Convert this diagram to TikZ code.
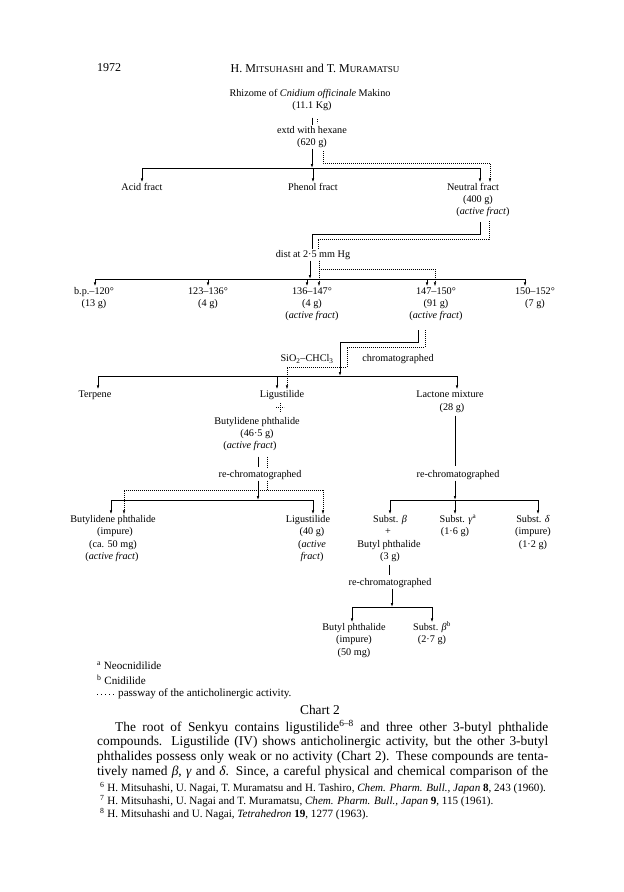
\documentclass[tikz,border=0pt]{standalone}
\usepackage{fontspec}
\setmainfont{Liberation Serif}
\usepackage{tikz}
\usetikzlibrary{arrows.meta,calc,positioning}
\newcommand\chartfont{\fontsize{10.2}{12}\selectfont}
\newcommand\bodyfont{\fontsize{13.4}{15}\selectfont}
\newcommand\notefont{\fontsize{11.1}{12}\selectfont}
\newcommand\hdrfont{\fontsize{12}{14}\selectfont}
\newcommand\fsc[2]{#1{\fontsize{9}{10}\selectfont #2}}
\newcommand\actf{(\textit{active fract\/})}
\tikzset{
  lbl/.style={font=\chartfont,inner sep=1pt,text height=7pt,text depth=2pt},
  body/.style={font=\bodyfont,inner sep=1pt},
  note/.style={font=\notefont,inner sep=1pt},
  hdr/.style={font=\hdrfont,inner sep=1pt},
  sol/.style={line width=0.7pt},
  act/.style={line width=0.6pt,dash pattern=on 0.6pt off 1.4pt},
}

\begin{document}
\begin{tikzpicture}[x=1pt,y=-1pt,>={Latex[length=4pt,width=2.6pt]}]
  \useasboundingbox (0,0) rectangle (624,892);
  % running head
  \node[hdr,anchor=west] (pgno) at (96,68) {1972};
  \node[hdr] (runhd) at (315,68) {H. \fsc{M}{ITSUHASHI} and T. \fsc{M}{URAMATSU}};

  % rhizome and extraction
  \node[lbl] (rhiz) at (310,94) {Rhizome of \textit{Cnidium officinale} Makino};
  \node[lbl] (rhizw) at (312,106) {(11.1 Kg)};
  \node[lbl] (extd) at (312,131) {extd with hexane};
  \node[lbl] (extdw) at (312,143) {(620 g)};
  \draw[sol,shorten <=6pt] (rhizw.south) -- (extd.north);
  \coordinate (p0) at (317,119);
  \draw[act] (p0) -- ++(0,4);

  % acid / phenol / neutral
  \node[lbl] (acid) at (142,188) {Acid fract};
  \node[lbl] (phen) at (313,188) {Phenol fract};
  \node[lbl] (neut) at (473,188) {Neutral fract};
  \node[lbl] (neutw) at (478,200) {(400 g)};
  \node[lbl] (neuta) at (483,212) {\actf};
  \coordinate (j1l) at (142,168);
  \coordinate (j1r) at (480,168);
  \draw[sol] (j1l) -- (j1r);
  \draw[sol,->] (extdw.south) -- (extdw.south |- j1l);
  \draw[sol,->] (j1l) -- (j1l |- acid.north);
  \draw[sol,->] (phen.north |- j1l) -- (phen.north);
  \draw[sol,->] (j1r) -- (j1r |- neut.north);
  \coordinate (p1) at (323,151);
  \coordinate (p2) at (490,163);
  \draw[act,->] (p1) |- (p2) -- (p2 |- neut.north);

  % distillation
  \node[lbl] (dist) at (313,255) {dist at 2·5 mm Hg};
  \coordinate (j2a) at (480,222);
  \coordinate (p3) at (489,221);
  \draw[sol] (j2a) -- ++(0,12) -| ([xshift=-1pt]dist.north);
  \draw[act] (p3) -- ++(0,18) -| ([xshift=5pt]dist.north);
  \foreach \n/\x/\bp/\w in {1/94/b.p.--120°/13 g,2/208/123--136°/4 g,3/312/136--147°/4 g,
      4/436/147--150°/91 g,5/535/150--152°/7 g}{
    \node[lbl] (f\n) at (\x,292) {\bp};
    \node[lbl] (fw\n) at (\x,304) {(\w)};
  }
  \node[lbl] (fa3) at (312,316) {\actf};
  \node[lbl] (fa4) at (436,316) {\actf};
  \coordinate (j3l) at (95,279);
  \coordinate (j3r) at (525,279);
  \draw[sol] (j3l) -- (j3r);
  \draw[sol,->] ([xshift=-3pt]dist.south) -- ([xshift=-3pt]dist.south |- j3l);
  \foreach \n/\dx in {1/1,2/0,3/-5,4/-9,5/-10}
    \draw[sol,->] ([xshift=\dx pt]f\n.north |- j3l) -- ([xshift=\dx pt]f\n.north);
  \coordinate (p4) at (435,269);
  \draw[act,->] ([xshift=6pt]dist.south) |- (p4) -- (p4 |- f4.north);
  \draw[act,->] ([xshift=6pt]dist.south) -- ([xshift=6pt]dist.south |- f3.north);

  % column
  \node[lbl] (sio) at (307,359) {SiO\textsubscript{2}--CHCl\textsubscript{3}};
  \node[lbl] (chrom) at (398,359) {chromatographed};
  \node[lbl] (terp) at (95,395) {Terpene};
  \node[lbl] (lig) at (282,395) {Ligustilide};
  \node[lbl] (lact) at (450,395) {Lactone mixture};
  \node[lbl] (lactw) at (452,408) {(28 g)};
  \coordinate (j4a) at (418,330);
  \coordinate (j5l) at (98,376);
  \coordinate (j5r) at (457,376);
  \coordinate (j5m) at (340,376);
  \draw[sol,->] (j4a) -- ++(0,12) -| (j5m);
  \draw[sol] (j5l) -- (j5r);
  \draw[sol,->] (j5l) -- (j5l |- terp.north);
  \draw[sol,->] ([xshift=-5pt]lig.north |- j5l) -- ([xshift=-5pt]lig.north);
  \draw[sol,->] (j5r) -- (j5r |- lact.north);
  \coordinate (p5) at (425,330);
  \coordinate (p6) at (347,367);
  \coordinate (p7) at (287,367);
  \draw[act,->] (p5) -- ++(0,17) -| (p6) -- (p7) -- (p7 |- lig.north);

  % ligustilide -> butylidene phthalide
  \node[lbl] (bdp) at (257,422) {Butylidene phthalide};
  \node[lbl] (bdpw) at (257,434) {(46·5 g)};
  \node[lbl] (bdpa) at (250,446) {\actf};
  \coordinate (p8) at (280,403);
  \draw[act] (p8) -- ++(0,9);
  \draw[act] ([xshift=-4pt,yshift=-4pt]p8) -- ++(8,0);
  \node[lbl] (rc1) at (260,475) {re-chromatographed};
  \node[lbl] (rc2) at (458,475) {re-chromatographed};
  \draw[sol,shorten <=5pt,shorten >=2pt] ([xshift=-2pt]rc1.north |- bdpa.south) -- ([xshift=-2pt]rc1.north);
  \draw[act,shorten <=5pt,shorten >=2pt] ([xshift=7pt]rc1.north |- bdpa.south) -- ([xshift=7pt]rc1.north);
  \draw[sol,shorten <=2pt,shorten >=3pt] ([xshift=3pt]lactw.south) -- ([xshift=3pt]lactw.south |- rc2.north);

  % left re-chromatography
  \node[lbl] (bd2) at (113,520) {Butylidene phthalide};
  \node[lbl] (bd2i) at (115,532) {(impure)};
  \node[lbl] (bd2w) at (113,545) {(ca. 50 mg)};
  \node[lbl] (bd2a) at (112,557) {\actf};
  \node[lbl] (lg2) at (308,520) {Ligustilide};
  \node[lbl] (lg2w) at (312,532) {(40 g)};
  \node[lbl] (lg2a) at (312,545) {(\textit{active}};
  \node[lbl] (lg2b) at (312,557) {\textit{fract\/})};
  \coordinate (j6l) at (111,500);
  \coordinate (j6r) at (313,500);
  \draw[sol] (j6l) -- (j6r);
  \draw[sol,->] ([xshift=-2pt]rc1.south) -- ([xshift=-2pt]rc1.south |- j6l);
  \draw[sol,->] (j6l) -- (j6l |- bd2.north);
  \draw[sol,->] (j6r) -- (j6r |- lg2.north);
  \coordinate (p9) at (124,490);
  \coordinate (p10) at (323,490);
  \draw[act] ([xshift=7pt]rc1.south) -- ([xshift=7pt]rc1.south |- p9);
  \draw[act,->] (p10) -- (p9) -- (p9 |- bd2.north);
  \draw[act,->] (p10) -- (p10 |- lg2.north);

  % right re-chromatography
  \node[lbl] (sb) at (390,520) {Subst. \textit{β}};
  \node[lbl] (plus) at (388,532) {+};
  \node[lbl] (bp) at (389,545) {Butyl phthalide};
  \node[lbl] (bpw) at (390,557) {(3 g)};
  \node[lbl] (sg) at (458,520) {Subst. \textit{γ}\textsuperscript{a}};
  \node[lbl] (sgw) at (455,532) {(1·6 g)};
  \node[lbl] (sd) at (533,520) {Subst. \textit{δ}};
  \node[lbl] (sdi) at (533,532) {(impure)};
  \node[lbl] (sdw) at (533,545) {(1·2 g)};
  \coordinate (j7l) at (390,500);
  \coordinate (j7r) at (538,500);
  \draw[sol] (j7l) -- (j7r);
  \draw[sol,->] ([xshift=-3pt]rc2.south) -- ([xshift=-3pt]rc2.south |- j7l);
  \draw[sol,->] (j7l) -- (j7l |- sb.north);
  \draw[sol,->] ([xshift=-3pt]sg.north |- j7l) -- ([xshift=-3pt]sg.north);
  \draw[sol,->] (j7r) -- (j7r |- sd.north);

  % last step
  \node[lbl] (rc3) at (390,583) {re-chromatographed};
  \draw[sol,shorten <=2pt,shorten >=2pt] ([xshift=-1pt]bpw.south) -- ([xshift=-1pt]rc3.north);
  \node[lbl] (bp2) at (354,628) {Butyl phthalide};
  \node[lbl] (bp2i) at (354,640) {(impure)};
  \node[lbl] (bp2w) at (354,653) {(50 mg)};
  \node[lbl] (sb2) at (432,628) {Subst. \textit{β}\textsuperscript{b}};
  \node[lbl] (sb2w) at (432,640) {(2·7 g)};
  \coordinate (j8l) at (352,607);
  \coordinate (j8r) at (432,607);
  \draw[sol] (j8l) -- (j8r);
  \draw[sol,->] ([xshift=2pt]rc3.south) -- ([xshift=2pt]rc3.south |- j8l);
  \draw[sol,->] (j8l) -- (j8l |- bp2.north);
  \draw[sol,->] (j8r) -- (j8r |- sb2.north);

  % key
  \node[note,anchor=west] (nta) at (96,666) {\textsuperscript{a} Neocnidilide};
  \node[note,anchor=west] (ntb) at (96,680) {\textsuperscript{b} Cnidilide};
  \coordinate (key0) at (97,694);
  \coordinate (key1) at (114,694);
  \draw[line width=0.6pt,dash pattern=on 0.8pt off 3.2pt] (key0) -- (key1);
  \node[note,anchor=west] (ntc) at (117,694) {passway of the anticholinergic activity.};
  \node[body] (cap) at (320,710) {Chart 2};

  % text below the chart
  \node[body,anchor=west] (ln1) at (114,727) {\makebox[433pt][s]{The root of Senkyu contains ligustilide\textsuperscript{6--8} and three other 3-butyl phthalide}};
  \node[body,anchor=west] (ln2) at (96,742) {\makebox[451pt][s]{compounds. Ligustilide (IV) shows anticholinergic activity, but the other 3-butyl}};
  \node[body,anchor=west] (ln3) at (96,757) {\makebox[451pt][s]{phthalides possess only weak or no activity (Chart 2). These compounds are tenta-}};
  \node[body,anchor=west] (ln4) at (96,772) {\makebox[451pt][s]{tively named \textit{β}, \textit{γ} and \textit{δ}. Since, a careful physical and chemical comparison of the}};
  \node[note,anchor=west] (fn6) at (99,788) {\textsuperscript{6} H. Mitsuhashi, U. Nagai, T. Muramatsu and H. Tashiro, \textit{Chem. Pharm. Bull., Japan} \textbf{8}, 243 (1960).};
  \node[note,anchor=west] (fn7) at (99,801) {\textsuperscript{7} H. Mitsuhashi, U. Nagai and T. Muramatsu, \textit{Chem. Pharm. Bull., Japan} \textbf{9}, 115 (1961).};
  \node[note,anchor=west] (fn8) at (99,814) {\textsuperscript{8} H. Mitsuhashi and U. Nagai, \textit{Tetrahedron} \textbf{19}, 1277 (1963).};
\end{tikzpicture}
\end{document}
